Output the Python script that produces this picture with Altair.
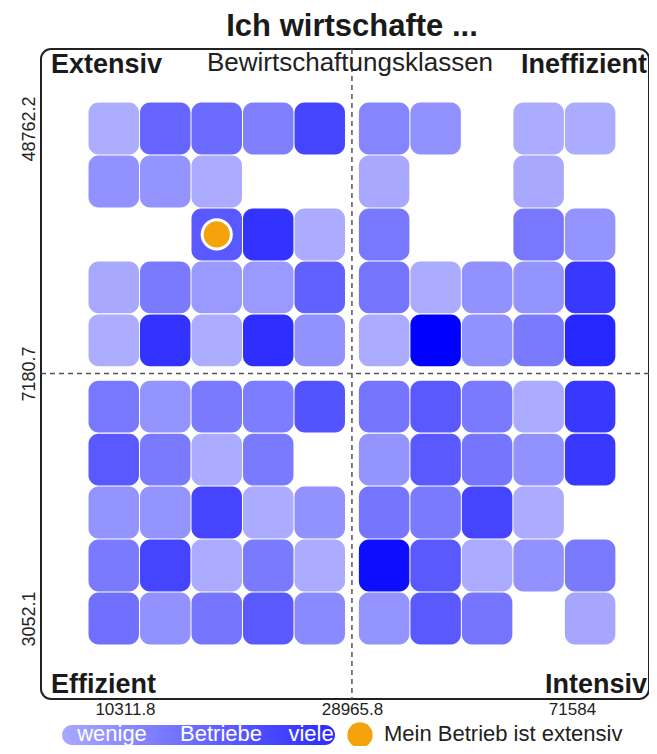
import altair as alt
import pandas as pd

# ---------------- data ----------------
title_text = "Ich wirtschafte ..."
subtitle_text = "Bewirtschaftungsklassen"
corner_top_left = "Extensiv"
corner_top_right = "Ineffizient"
corner_bottom_left = "Effizient"
corner_bottom_right = "Intensiv"
x_tick_labels = ["10311.8", "28965.8", "71584"]
y_tick_labels = ["48762.2", "7180.7", "3052.1"]
legend_words = ["wenige", "Betriebe", "viele"]
my_farm_label = "Mein Betrieb ist extensiv"

# share of farms per class cell (rows top -> bottom, columns left -> right); None = empty
row_0 = [0.32, 0.60, 0.58, 0.50, 0.73, 0.48, 0.43, None, 0.33, 0.33]
row_1 = [0.43, 0.42, 0.33, None, None, 0.34, None, None, 0.34, None]
row_2 = [None, None, 0.65, 0.80, 0.33, 0.53, None, None, 0.53, 0.42]
row_3 = [0.34, 0.52, 0.40, 0.40, 0.62, 0.54, 0.33, 0.43, 0.42, 0.78]
row_4 = [0.32, 0.80, 0.32, 0.82, 0.43, 0.33, 1.00, 0.43, 0.52, 0.85]
row_5 = [0.53, 0.42, 0.52, 0.51, 0.67, 0.54, 0.65, 0.52, 0.33, 0.78]
row_6 = [0.65, 0.52, 0.33, 0.52, None, 0.42, 0.65, 0.54, 0.43, 0.78]
row_7 = [0.42, 0.42, 0.73, 0.33, 0.43, 0.54, 0.52, 0.73, 0.33, None]
row_8 = [0.52, 0.73, 0.33, 0.52, 0.33, 0.95, 0.65, 0.33, 0.43, 0.52]
row_9 = [0.56, 0.43, 0.54, 0.65, 0.46, 0.42, 0.65, 0.54, None, 0.35]

my_farm_col = 2
my_farm_row = 2

# ---------------- build tables ----------------
rows = [row_0, row_1, row_2, row_3, row_4, row_5, row_6, row_7, row_8, row_9]
recs = []
for r, vals in enumerate(rows):
    for c, v in enumerate(vals):
        if v is not None:
            recs.append({"row": r, "col": c, "value": v})
cells_df = pd.DataFrame(recs)
farm_df = pd.DataFrame({"row": [my_farm_row], "col": [my_farm_col]})
split_df = pd.DataFrame({"split": [5]})
one = pd.DataFrame({"k": [0]})

FONT = "Liberation Sans"

x_tick_pos = [0.718, 5.125, 9.398]
y_tick_pos = [0.5, 5.125, 9.75]


def label_expr(pos, labels):
    expr = "'" + labels[-1] + "'"
    for i in range(len(pos) - 2, -1, -1):
        thr = (pos[i] + pos[i + 1]) / 2
        expr = f"datum.value < {thr} ? '{labels[i]}' : " + expr
    return expr


W, H = 608, 650
xscale = alt.Scale(domain=[-0.9126, -0.9126 + W / 51.5], nice=False, zero=False)
yscale = alt.Scale(domain=[-1.0, -1.0 + H / 52.98], nice=False, zero=False, reverse=True)
xaxis = alt.Axis(values=x_tick_pos, labelExpr=label_expr(x_tick_pos, x_tick_labels),
                 grid=False, domain=False, ticks=False, title=None, labelFont=FONT,
                 labelFontSize=17, labelColor="#222", labelPadding=2, labelFlush=False,
                 labelOverlap=False, labelBound=False)
yaxis = alt.Axis(values=y_tick_pos, labelExpr=label_expr(y_tick_pos, y_tick_labels),
                 grid=False, domain=False, ticks=False, title=None, labelFont=FONT,
                 labelFontSize=18, labelColor="#222", labelPadding=3, labelAngle=-90,
                 labelAlign="center", labelBaseline="bottom", labelFlush=False,
                 labelOverlap=False, labelBound=False)


def X(f):
    return alt.X(f, scale=xscale, axis=xaxis)


def Y(f):
    return alt.Y(f, scale=yscale, axis=yaxis)


cells = alt.Chart(cells_df).transform_calculate(
    xs="datum.col + (datum.col >= 5 ? 0.25 : 0)",
    ys="datum.row + (datum.row >= 5 ? 0.25 : 0)",
).transform_calculate(
    x0="datum.xs + 0.01", x1="datum.xs + 0.99",
    y0="datum.ys + 0.01", y1="datum.ys + 0.99",
).mark_rect(cornerRadius=10).encode(
    x=X("x0:Q"), x2="x1:Q", y=Y("y0:Q"), y2="y1:Q",
    color=alt.Color("value:Q",
                    scale=alt.Scale(domain=[0, 1], range=["#ffffff", "#0000ff"],
                                    interpolate="rgb"),
                    legend=None),
)

vrule = alt.Chart(split_df).transform_calculate(
    mid="datum.split + 0.125"
).mark_rule(color="#555", strokeDash=[5, 4], strokeWidth=1.5).encode(x=X("mid:Q"))

hrule = alt.Chart(split_df).transform_calculate(
    mid="datum.split + 0.125"
).mark_rule(color="#555", strokeDash=[5, 4], strokeWidth=1.5).encode(y=Y("mid:Q"))

farm = alt.Chart(farm_df).transform_calculate(
    cx="datum.col + (datum.col >= 5 ? 0.25 : 0) + 0.5",
    cy="datum.row + (datum.row >= 5 ? 0.25 : 0) + 0.5",
).mark_circle(size=850, color="#F5A30A", opacity=1, stroke="white", strokeWidth=3).encode(
    x=X("cx:Q"), y=Y("cy:Q")
)


def txt(text, x, y, size, bold=False, align="left", color="#1a1a1a"):
    return alt.Chart(one).mark_text(
        text=text, font=FONT, fontSize=size, fontWeight="bold" if bold else "normal",
        align=align, baseline="alphabetic", color=color,
    ).encode(x=alt.value(x), y=alt.value(y))


texts = [
    txt(title_text, 311, -13, 31, bold=True, align="center"),
    txt(subtitle_text, 309, 22, 26, align="center", color="#222"),
    txt(corner_top_left, 10, 24, 27, bold=True),
    txt(corner_top_right, 606, 24, 27, bold=True, align="right"),
    txt(corner_bottom_left, 10, 644, 27, bold=True),
    txt(corner_bottom_right, 606, 644, 27, bold=True, align="right"),
]

legend_bar = alt.Chart(one).mark_rect(
    cornerRadius=10,
    color=alt.Gradient(gradient="linear",
                       stops=[alt.GradientStop(color="#a8a8ff", offset=0),
                              alt.GradientStop(color="#2a2aff", offset=1)],
                       x1=0, x2=1, y1=0, y2=0),
).encode(x=alt.value(21), x2=alt.value(294), y=alt.value(676), y2=alt.value(696))

legend_word_x = [71, 180, 270]
legend_texts = [txt(w, xx, 692, 22, align="center", color="white")
                for w, xx in zip(legend_words, legend_word_x)]

legend_dot = alt.Chart(one).mark_circle(size=640, color="#F5A30A", opacity=1).encode(
    x=alt.value(319), y=alt.value(686)
)
legend_label = txt(my_farm_label, 343, 692, 22, color="#222")

chart = alt.layer(
    vrule, hrule, cells, farm, *texts, legend_bar, *legend_texts, legend_dot, legend_label
).properties(
    width=W, height=H, autosize="none",
    padding={"left": 33, "top": 41, "right": 0, "bottom": 47},
    background="white",
).configure_view(stroke="#222", strokeWidth=2, cornerRadius=10)

chart.save("out.html", embed_options={"renderer": "svg", "actions": False})
